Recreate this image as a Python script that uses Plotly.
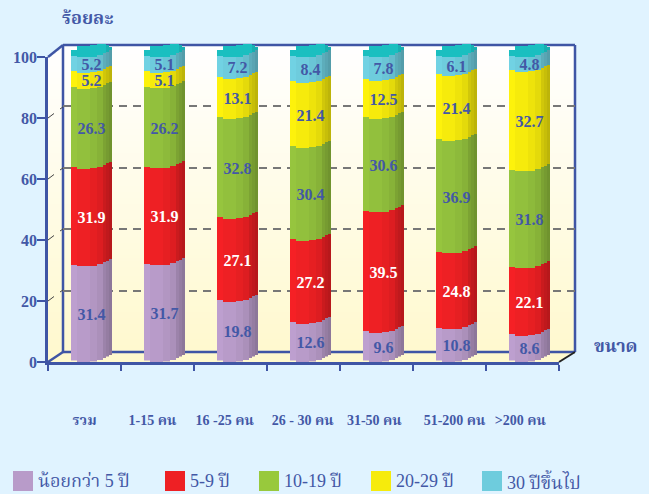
import plotly.graph_objects as go

categories = ["รวม", "1-15 คน", "16 -25 คน", "26 - 30 คน", "31-50 คน", "51-200 คน", ">200 คน"]
under5 = [31.4, 31.7, 19.8, 12.6, 9.6, 10.8, 8.6]
y5_9 = [31.9, 31.9, 27.1, 27.2, 39.5, 24.8, 22.1]
y10_19 = [26.3, 26.2, 32.8, 30.4, 30.6, 36.9, 31.8]
y20_29 = [5.2, 5.1, 13.1, 21.4, 12.5, 21.4, 32.7]
y30up = [5.2, 5.1, 7.2, 8.4, 7.8, 6.1, 4.8]
series_names = ["น้อยกว่า 5 ปี", "5-9 ปี", "10-19 ปี", "20-29 ปี", "30 ปีขึ้นไป"]
series_values = [under5, y5_9, y10_19, y20_29, y30up]
y_ticks = [0, 20, 40, 60, 80, 100]

W, H = 649, 494
BLUE = "#3F55A5"
TXT = "#4358A6"
SERIF = "Liberation Serif, Noto Serif Thai, Noto Sans Thai, serif"
colors = ["#B89BC9", "#EE2024", "#98C93C", "#F6EB0C", "#6ECCDD"]
bar_colors = ["#B89BC9", "#EE2024", "#92C03D", "#F6EB0C", "#6ECCDD"]
label_colors = [TXT, "white", TXT, TXT, TXT]
legend_x = [13, 165, 259, 371, 482]

# front plane / back wall pixel geometry
FX0, FX1, FY0, FY1 = 48, 559, 362, 57
BX0, BX1, BY0, BY1 = 63, 575, 352, 45
UNIT = (FX1 - FX0) / 7
PXY = (FY0 - FY1) / 100
BAR_L = 71 - (FX0 + UNIT / 2)   # bar left relative to category centre
HEADROOM = 10  # axis units kept above 100 so the cap stays inside the range

# strips of the rounded column: left px, right px, rise px, shade, cap top px
strips = [
    (0, 6, 1.5, 1.03, 50), (6, 19, 0, 1.00, 46), (19, 26, 0.5, 0.97, 44.5),
    (26, 32, 2, 0.93, 44), (32, 35, 4, 0.85, 44), (35, 38, 5.5, 0.81, 44.5),
    (38, 41, 7, 0.77, 47),
]


def fx(p):
    return p / W


def fy(p):
    return 1 - p / H


def shade(c, f):
    r, g, b = int(c[1:3], 16), int(c[3:5], 16), int(c[5:7], 16)
    return "rgb(%d,%d,%d)" % tuple(min(255, int(v * f)) for v in (r, g, b))


fig = go.Figure()
layout = dict(
    width=W, height=H, autosize=False, margin=dict(l=0, r=0, t=0, b=0, autoexpand=False),
    paper_bgcolor="#E0F3FF", plot_bgcolor="rgba(0,0,0,0)",
    barmode="stack", showlegend=False, hovermode=False,
    font=dict(family=SERIF, color=TXT),
)
hidden = dict(showgrid=False, zeroline=False, showticklabels=False, ticks="", showline=False)

# back wall axes (grid only)
layout["xaxis"] = dict(domain=[fx(BX0), fx(BX1)], range=[-0.5, 6.5], anchor="y", **hidden)
layout["yaxis"] = dict(
    domain=[fy(BY0), fy(BY1)], range=[0, 100], anchor="x",
    tickvals=[20, 40, 60, 80], showticklabels=False, ticks="", showline=False, zeroline=False,
    showgrid=True, gridcolor="#777777", griddash="8px,6px", gridwidth=1.5,
)
fig.add_trace(go.Scatter(x=[0], y=[0], mode="markers", marker=dict(opacity=0), xaxis="x", yaxis="y"))

# front plane axes
layout["xaxis2"] = dict(
    domain=[fx(FX0), fx(FX1)], range=[-0.5, 6.5], anchor="y2", showgrid=False, zeroline=False,
    tickvals=[i - 0.5 for i in range(8)], showticklabels=False, ticks="outside", ticklen=6,
    tickcolor=BLUE, tickwidth=1.5, showline=True, linecolor=BLUE, linewidth=2.5,
)
layout["yaxis2"] = dict(
    domain=[fy(FY0), fy(FY1)], range=[0, 100], anchor="x2", showgrid=False, zeroline=False,
    tickvals=y_ticks, ticks="outside", ticklen=8, tickcolor=BLUE, tickwidth=1.5,
    showline=True, linecolor=BLUE, linewidth=2.5, ticklabelstandoff=-3,
    tickfont=dict(family=SERIF, size=16, color=TXT, weight="bold"),
)
fig.add_trace(go.Scatter(x=[0], y=[0], mode="markers", marker=dict(opacity=0), xaxis="x2", yaxis="y2"))

xs = list(range(len(categories)))

# rounded column built from strips, each on its own slightly raised axis
for k, (p0, p1, rise, f, top) in enumerate(strips):
    n = k + 3
    layout[f"yaxis{n}"] = dict(
        domain=[fy(FY0 - rise), fy(FY1 - rise - HEADROOM * PXY)], range=[0, 100 + HEADROOM],
        anchor="x2", **hidden
    )
    for vals, c in zip(series_values, bar_colors):
        fig.add_trace(go.Bar(
            x=xs, y=vals, xaxis="x2", yaxis=f"y{n}", width=(p1 - p0 + 0.4) / UNIT,
            offset=(BAR_L + p0) / UNIT, marker=dict(color=shade(c, f), line_width=0),
        ))
    cap_h = (FY1 - rise - top) / PXY
    fig.add_trace(go.Bar(
        x=xs, y=[cap_h] * len(xs), xaxis="x2", yaxis=f"y{n}", width=(p1 - p0 + 0.4) / UNIT,
        offset=(BAR_L + p0) / UNIT,
        marker=dict(color=shade("#1ABFC0", 0.92 if k >= 5 else 1), line_width=0),
    ))

# value labels and category labels on a top overlay
label_n = len(strips) + 3
layout["xaxis3"] = dict(
    domain=[fx(FX0), fx(FX1)], range=[-0.5, 6.5], anchor=f"y{label_n}",
    showgrid=False, zeroline=False, showline=False, ticks="",
    tickvals=[0, 0.93, 1.92, 2.99, 3.97, 5.07, 5.97], ticktext=categories,
    ticklabelstandoff=48, tickangle=0,
    tickfont=dict(family=SERIF, size=14, color=TXT, weight="bold"),
)
layout[f"yaxis{label_n}"] = dict(
    domain=[fy(FY0), fy(FY1)], range=[0, 100], anchor="x3", **hidden
)
for vals, lc in zip(series_values, label_colors):
    fig.add_trace(go.Bar(
        x=xs, y=vals, xaxis="x3", yaxis=f"y{label_n}", width=41 / UNIT, offset=BAR_L / UNIT,
        marker=dict(color="rgba(0,0,0,0)", line_width=0),
        text=[f"{v:.1f}" for v in vals], textposition="inside", insidetextanchor="middle",
        textangle=0, constraintext="none", cliponaxis=False,
        textfont=dict(family=SERIF, size=16, color=lc, weight="bold"),
    ))

# wall gradient (below everything)
shapes = []
top_c, bot_c = (255, 255, 255), (255, 249, 205)
for p in range(BY1, FY0, 3):
    t = (p - BY1) / (FY0 - BY1)
    col = "rgb(%d,%d,%d)" % tuple(int(a + (b - a) * t) for a, b in zip(top_c, bot_c))
    left = FX0 if p >= FY1 else FX0 + (FY1 - p) * (BX0 - FX0) / (FY1 - BY1)
    right = BX1 if p + 3 <= BY0 else BX1 - (p + 1.5 - BY0) * (BX1 - FX1) / (FY0 - BY0)
    shapes.append(dict(type="rect", xref="paper", yref="paper", layer="below", fillcolor=col,
                       line_width=0, x0=fx(left), x1=fx(right), y0=fy(p), y1=fy(min(p + 3.3, FY0))))


def seg(x0, y0, x1, y1, color=BLUE, w=2.5, layer="below"):
    shapes.append(dict(type="line", xref="paper", yref="paper", layer=layer,
                       x0=fx(x0), y0=fy(y0), x1=fx(x1), y1=fy(y1), line=dict(color=color, width=w)))


seg(BX0, BY1, BX1, BY1)
seg(BX1, BY1, BX1, BY0)
seg(BX0, BY1, BX0, BY0)
seg(BX0, BY0, BX1, BY0)
seg(FX0, FY1, BX0, BY1)
seg(FX0, FY0, BX0, BY0)
seg(FX1, FY0, BX1, BY0, color="#222222", w=2)
for v in y_ticks[1:-1]:
    yy = FY0 - v * PXY
    seg(FX0, yy, FX0 + 6, yy - 4.5, color="#444444", w=1)
    seg(FX0 + 12, yy - 9, BX0, yy - 11, color="#444444", w=1)

# legend
annotations = []
for name, c, lx in zip(series_names, colors, legend_x):
    shapes.append(dict(type="rect", xref="paper", yref="paper", fillcolor=c, line_width=0,
                       x0=fx(lx), x1=fx(lx + 20), y0=fy(491), y1=fy(471)))
    annotations.append(dict(text=name, xref="paper", yref="paper", x=fx(lx + 23), y=fy(481),
                            xanchor="left", yanchor="middle", showarrow=False,
                            font=dict(family=SERIF, size=18, color=TXT)))
annotations.append(dict(text="ร้อยละ", xref="paper", yref="paper", x=fx(60), y=fy(18),
                        xanchor="left", yanchor="middle", showarrow=False,
                        font=dict(family=SERIF, size=18, color=TXT, weight="bold")))
annotations.append(dict(text="ขนาด", xref="paper", yref="paper", x=fx(592), y=fy(346),
                        xanchor="left", yanchor="middle", showarrow=False,
                        font=dict(family=SERIF, size=18, color=TXT, weight="bold")))

layout["shapes"] = shapes
layout["annotations"] = annotations
fig.update_layout(**layout)
fig.write_html("out.html", config=dict(displayModeBar=False),
               post_script="document.body.style.margin='0';document.body.style.background='#E0F3FF';")
